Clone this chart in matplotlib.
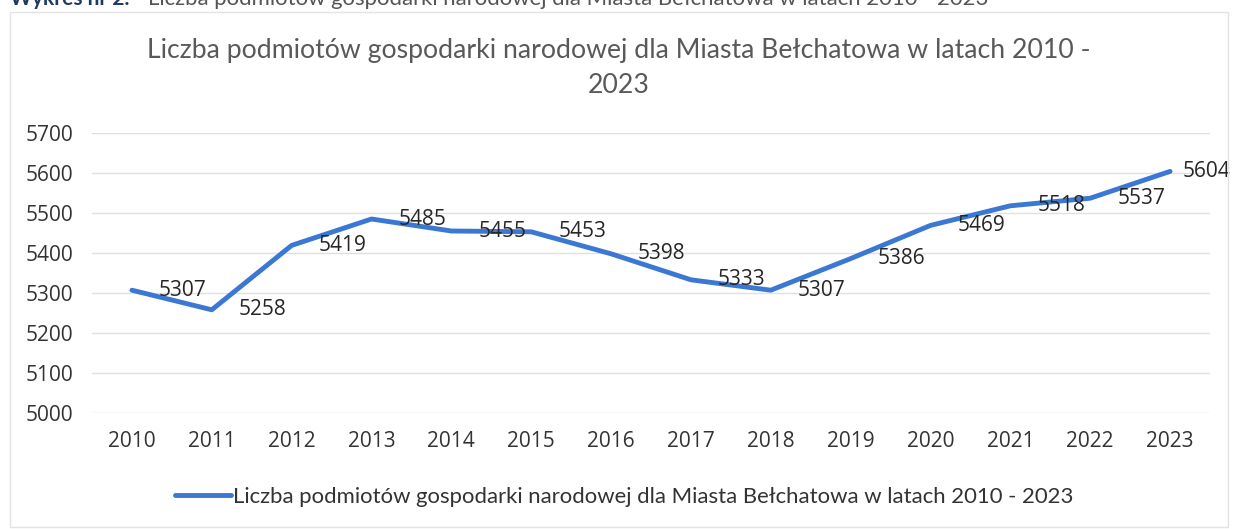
import matplotlib
matplotlib.use("Agg")
import matplotlib.pyplot as plt
from matplotlib.patches import Rectangle

# data
years = ["2010", "2011", "2012", "2013", "2014", "2015", "2016",
         "2017", "2018", "2019", "2020", "2021", "2022", "2023"]
values = [5307, 5258, 5419, 5485, 5455, 5453, 5398,
          5333, 5307, 5386, 5469, 5518, 5537, 5604]
y_ticks = [5000, 5100, 5200, 5300, 5400, 5500, 5600, 5700]

title = "Liczba podmiotów gospodarki narodowej dla Miasta Bełchatowa w latach 2010 -\n2023"
series_name = "Liczba podmiotów gospodarki narodowej dla Miasta Bełchatowa w latach 2010 - 2023"
header_bold = "Wykres nr 2."
header_rest = "Liczba podmiotów gospodarki narodowej dla Miasta Bełchatowa w latach 2010 - 2023"

plt.rcParams['font.family'] = ['Lato', 'DejaVu Sans']
num_font = ['Open Sans', 'DejaVu Sans']

W, H = 1235, 529
fig = plt.figure(figsize=(W / 100, H / 100), dpi=100)
ax = fig.add_axes([92 / W, 1 - 413 / H, (1210 - 92) / W, (413 - 133) / H])

line_color = '#3b78d3'
x = list(range(len(years)))
ax.plot(x, values, color=line_color, lw=3.5, solid_capstyle='round',
        solid_joinstyle='round', label=series_name, zorder=3)

# data labels to the right of each point
for i, v in enumerate(values):
    off = 13 if i == len(values) - 1 else 27
    ax.annotate(str(v), (i, v), xytext=(off * 0.72, 0), textcoords='offset points',
                ha='left', va='center', fontsize=15, color='#262626',
                family=num_font, zorder=4)

ax.set_xlim(-0.5, len(years) - 0.5)
ax.set_ylim(5000, 5700)
ax.set_yticks(y_ticks)
ax.set_xticks(x)
ax.set_xticklabels(years)
ax.tick_params(axis='both', length=0, labelsize=15, labelcolor='#333333')
ax.tick_params(axis='x', pad=13)
ax.tick_params(axis='y', pad=13.5)
for lab in ax.get_xticklabels() + ax.get_yticklabels():
    lab.set_family(num_font)
ax.grid(axis='y', color='#e0e0e0', lw=1)
ax.set_axisbelow(True)
for s in ax.spines.values():
    s.set_visible(False)

fig.text(619 / W, 1 - 68 / H, title, ha='center', va='center', fontsize=19.2,
         color='#595959', linespacing=1.5)

leg = fig.legend(loc='center', bbox_to_anchor=(624 / W, 1 - 497 / H), frameon=False,
                 fontsize=15.9, handlelength=2.55, handletextpad=0.05,
                 labelcolor='#333333')

# outer chart border and the clipped caption above it
fig.patches.append(Rectangle((10 / W, 2 / H), 1218 / W, 515 / H,
                             transform=fig.transFigure, fill=False,
                             edgecolor='#e3e3e3', lw=1))
fig.text(10 / W, 1 - 5 / H, header_bold, ha='left', va='baseline', fontsize=15,
         fontweight='bold', color='#1f3864')
fig.text(148 / W, 1 - 5 / H, header_rest, ha='left', va='baseline', fontsize=15.9,
         color='#555555')

fig.savefig('out.png', dpi=100, facecolor='white')
